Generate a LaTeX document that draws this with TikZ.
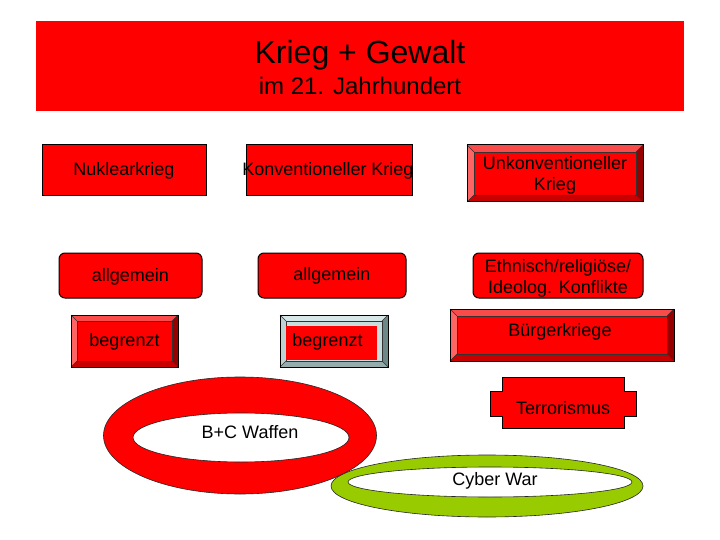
\documentclass[tikz,border=0pt]{standalone}
\usepackage{fontspec}
\setmainfont{Liberation Sans}
\definecolor{pptred}{RGB}{255,0,0}
\definecolor{rbface}{RGB}{255,0,0}
\definecolor{rbtop}{RGB}{250,75,75}
\definecolor{rbleft}{RGB}{255,100,100}
\definecolor{rbright}{RGB}{150,0,0}
\definecolor{rbbottom}{RGB}{200,0,0}
\definecolor{gbface}{RGB}{200,222,222}
\definecolor{gbtop}{RGB}{215,230,230}
\definecolor{gbleft}{RGB}{190,210,210}
\definecolor{gbright}{RGB}{110,135,135}
\definecolor{gbbottom}{RGB}{150,172,172}
\definecolor{cybergreen}{RGB}{153,204,0}
\newcommand\bevelbox[6]{%
  \fill[#6face] (#1,#2) rectangle (#3,#4);
  \fill[#6top] (#1,#2) -- (#3,#2) -- ({#3-#5},{#2+#5}) -- ({#1+#5},{#2+#5}) -- cycle;
  \fill[#6left] (#1,#2) -- ({#1+#5},{#2+#5}) -- ({#1+#5},{#4-#5}) -- (#1,#4) -- cycle;
  \fill[#6right] (#3,#2) -- (#3,#4) -- ({#3-#5},{#4-#5}) -- ({#3-#5},{#2+#5}) -- cycle;
  \fill[#6bottom] (#1,#4) -- ({#1+#5},{#4-#5}) -- ({#3-#5},{#4-#5}) -- (#3,#4) -- cycle;
  \draw[bevline] ({#1+#5},{#2+#5}) rectangle ({#3-#5},{#4-#5});
  \draw[bevline] (#1,#2) -- ({#1+#5},{#2+#5}) (#3,#2) -- ({#3-#5},{#2+#5})
                 (#1,#4) -- ({#1+#5},{#4-#5}) (#3,#4) -- ({#3-#5},{#4-#5});
  \draw[boxline] (#1,#2) rectangle (#3,#4);
}
\tikzset{
  boxline/.style={draw=black, line width=1pt},
  bevline/.style={draw=black!80, line width=0.5pt},
  redbox/.style={boxline, fill=pptred, inner sep=0pt},
  roundbox/.style={redbox, rounded corners=6pt},
  txt/.style={font=\fontsize{18}{21}\selectfont, text=black, inner sep=0pt, align=center},
  ring/.style={draw=black!85, line width=0.6pt, even odd rule},
}
\begin{document}
\begin{tikzpicture}[x=1pt, y=-1pt]
\useasboundingbox (0,0) rectangle (720,540);
\fill[white] (0,0) rectangle (720,540);
% title
\node[fill=pptred, minimum width=648pt, minimum height=90pt, inner sep=0pt] (title) at (360,66) {};
\node[font=\fontsize{32}{36}\selectfont, anchor=base, inner sep=0pt] (t1) at (360,64) {Krieg + Gewalt};
\node[font=\fontsize{24}{28}\selectfont, anchor=base, inner sep=0pt] (t2) at (360,95) {im 21. Jahrhundert};
% row 1
\node[redbox, minimum width=164pt, minimum height=51pt] (nukbox) at (124,170.5) {};
\node[txt] (nuk) at (124,171) {Nuklearkrieg};
\node[redbox, minimum width=166pt, minimum height=51pt] (konbox) at (329,170.5) {};
\node[txt] (kon) at (328,171) {Konventioneller Krieg};
\bevelbox{467}{145}{643}{202}{7}{rb}
\node[txt, anchor=base] (unk1) at (555,170) {Unkonventioneller};
\node[txt, anchor=base] (unk2) at (555,191) {Krieg};
% row 2
\node[roundbox, minimum width=143pt, minimum height=45pt] (allgL) at (130.5,275.5) {};
\node[txt] (allgLt) at (130.5,277) {allgemein};
\node[roundbox, minimum width=148pt, minimum height=45pt] (allgM) at (332,275.5) {};
\node[txt] (allgMt) at (332,276) {allgemein};
\node[roundbox, minimum width=170pt, minimum height=45pt] (ethbox) at (558,275.5) {};
\node[txt, anchor=base] (eth1) at (558,272) {Ethnisch/religiöse/};
\node[txt, anchor=base] (eth2) at (558,293) {Ideolog. Konflikte};
% row 3
\bevelbox{71}{315}{178}{367}{6}{rb}
\node[txt] (begL) at (124.5,342) {begrenzt};
\bevelbox{280}{315}{388}{367}{6}{gb}
\node[fill=pptred, minimum width=91pt, minimum height=34pt, inner sep=0pt] (begMbox) at (331.5,343) {};
\node[txt] (begM) at (327.5,342) {begrenzt};
\bevelbox{450}{309}{674}{361}{7}{rb}
\node[txt, anchor=base] (buerg) at (560,336) {Bürgerkriege};
% Terrorismus
\filldraw[fill=pptred, boxline] (502,377) -- (624,377) -- (624,391) -- (636,391) -- (636,416)
  -- (624,416) -- (624,428) -- (502,428) -- (502,416) -- (490,416) -- (490,391) -- (502,391) -- cycle;
\node[txt, anchor=base] (terr) at (563,414) {Terrorismus};
% rings
\fill[pptred, ring] (240,435.5) ellipse [x radius=136.5, y radius=58.5]
                    (241,437.5) ellipse [x radius=108, y radius=24.5];
\node[txt, anchor=base] (bc) at (250,438) {B+C Waffen};
\fill[cybergreen, ring] (487,486) ellipse [x radius=156, y radius=31]
                        (490,482) ellipse [x radius=142, y radius=15];
\node[txt, anchor=base] (cyber) at (495,485) {Cyber War};
\end{tikzpicture}
\end{document}
